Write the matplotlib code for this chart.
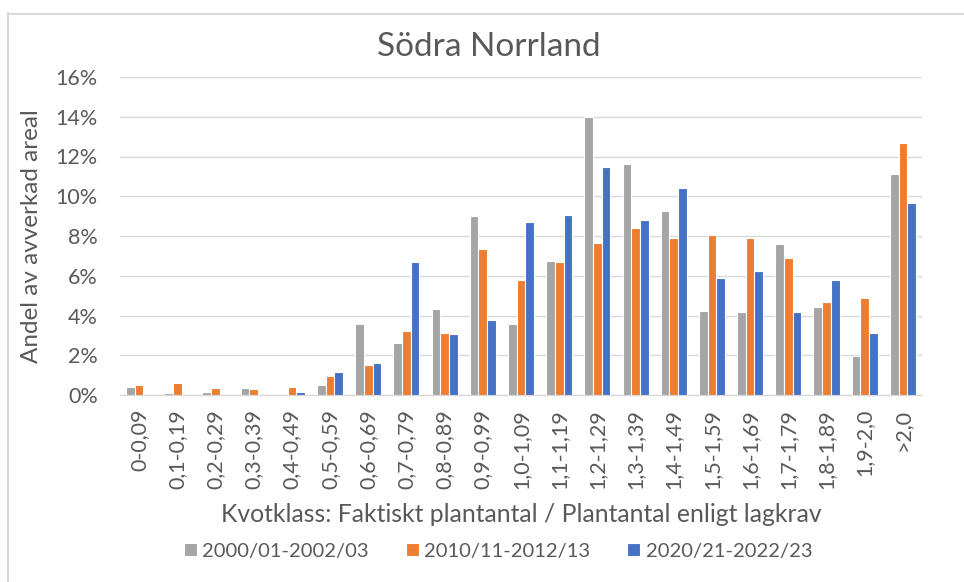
import matplotlib
matplotlib.use("Agg")
import matplotlib.pyplot as plt
import numpy as np
from matplotlib.lines import Line2D

categories = ["0-0,09", "0,1-0,19", "0,2-0,29", "0,3-0,39", "0,4-0,49", "0,5-0,59",
              "0,6-0,69", "0,7-0,79", "0,8-0,89", "0,9-0,99", "1,0-1,09", "1,1-1,19",
              "1,2-1,29", "1,3-1,39", "1,4-1,49", "1,5-1,59", "1,6-1,69", "1,7-1,79",
              "1,8-1,89", "1,9-2,0", ">2,0"]
series_names = ["2000/01-2002/03", "2010/11-2012/13", "2020/21-2022/23"]
s2000 = [0.42, 0.10, 0.17, 0.35, 0.00, 0.49, 3.59, 2.62, 4.31, 9.01, 3.59, 6.74,
         13.98, 11.64, 9.26, 4.23, 4.16, 7.60, 4.43, 1.98, 11.14]
s2010 = [0.49, 0.62, 0.35, 0.29, 0.42, 0.94, 1.53, 3.20, 3.14, 7.33, 5.79, 6.69,
         7.65, 8.42, 7.92, 8.04, 7.92, 6.88, 4.68, 4.87, 12.70]
s2020 = [0.00, 0.00, 0.00, 0.00, 0.17, 1.14, 1.59, 6.68, 3.07, 3.78, 8.69, 9.08,
         11.46, 8.81, 10.44, 5.91, 6.22, 4.16, 5.77, 3.14, 9.65]
yticks = [0, 2, 4, 6, 8, 10, 12, 14, 16]

colors = ["#A5A5A5", "#ED7D31", "#4472C4"]
txt = "#595959"
grid = "#D9D9D9"

plt.rcParams['font.family'] = ['Lato', 'DejaVu Sans']

fig = plt.figure(figsize=(9.64, 5.82), dpi=100)
ax = fig.add_axes([120/964, 1-395/582, (922-120)/964, (395-77)/582])

x = np.arange(len(categories))
w = 0.228
for i, (vals, c, name) in enumerate(zip([s2000, s2010, s2020], colors, series_names)):
    ax.bar(x + (i-1)*w, vals, width=w, color=c, edgecolor="white", linewidth=0.8,
           label=name, zorder=3)

ax.set_xlim(-0.5, len(categories)-0.5)
ax.set_ylim(0, 16)
ax.set_yticks(yticks)
ax.set_yticklabels([f"{v}%" for v in yticks])
ax.set_xticks(x)
ax.set_xticklabels(categories, rotation=90, va="top", ha="center")
ax.tick_params(axis="both", length=0, colors=txt, labelsize=15.5)
ax.tick_params(axis="x", pad=10)
ax.tick_params(axis="y", pad=16)
ax.yaxis.grid(True, color=grid, linewidth=1.0, zorder=0)
ax.set_axisbelow(True)
for s in ["top", "right", "left"]:
    ax.spines[s].set_visible(False)
ax.spines["bottom"].set_color(grid)
ax.spines["bottom"].set_linewidth(1.0)

fig.text(489/964, 1-47/582, "Södra Norrland", ha="center", va="center",
         fontsize=24, color=txt)
fig.text(32/964, 1-236/582, "Andel av avverkad areal", rotation=90,
         ha="center", va="center", fontsize=17.5, color=txt)
fig.text(521/964, 1-515/582, "Kvotklass: Faktiskt plantantal / Plantantal enligt lagkrav",
         ha="center", va="center", fontsize=17.8, color=txt)

leg = fig.legend(loc="center", bbox_to_anchor=(498/964, 1-551/582), ncol=3,
                 frameon=False, fontsize=14.5, handlelength=0.65, handleheight=0.65,
                 handletextpad=0.25, columnspacing=1.85, labelcolor=txt)

fig.add_artist(Line2D([7.5/964, 7.5/964], [0, 1-13/582], color=grid, linewidth=1.5,
                      transform=fig.transFigure))
fig.add_artist(Line2D([7.5/964, 1], [1-13.5/582, 1-13.5/582], color=grid, linewidth=1.5,
                      transform=fig.transFigure))

fig.savefig("out.png", dpi=100, facecolor="white")
